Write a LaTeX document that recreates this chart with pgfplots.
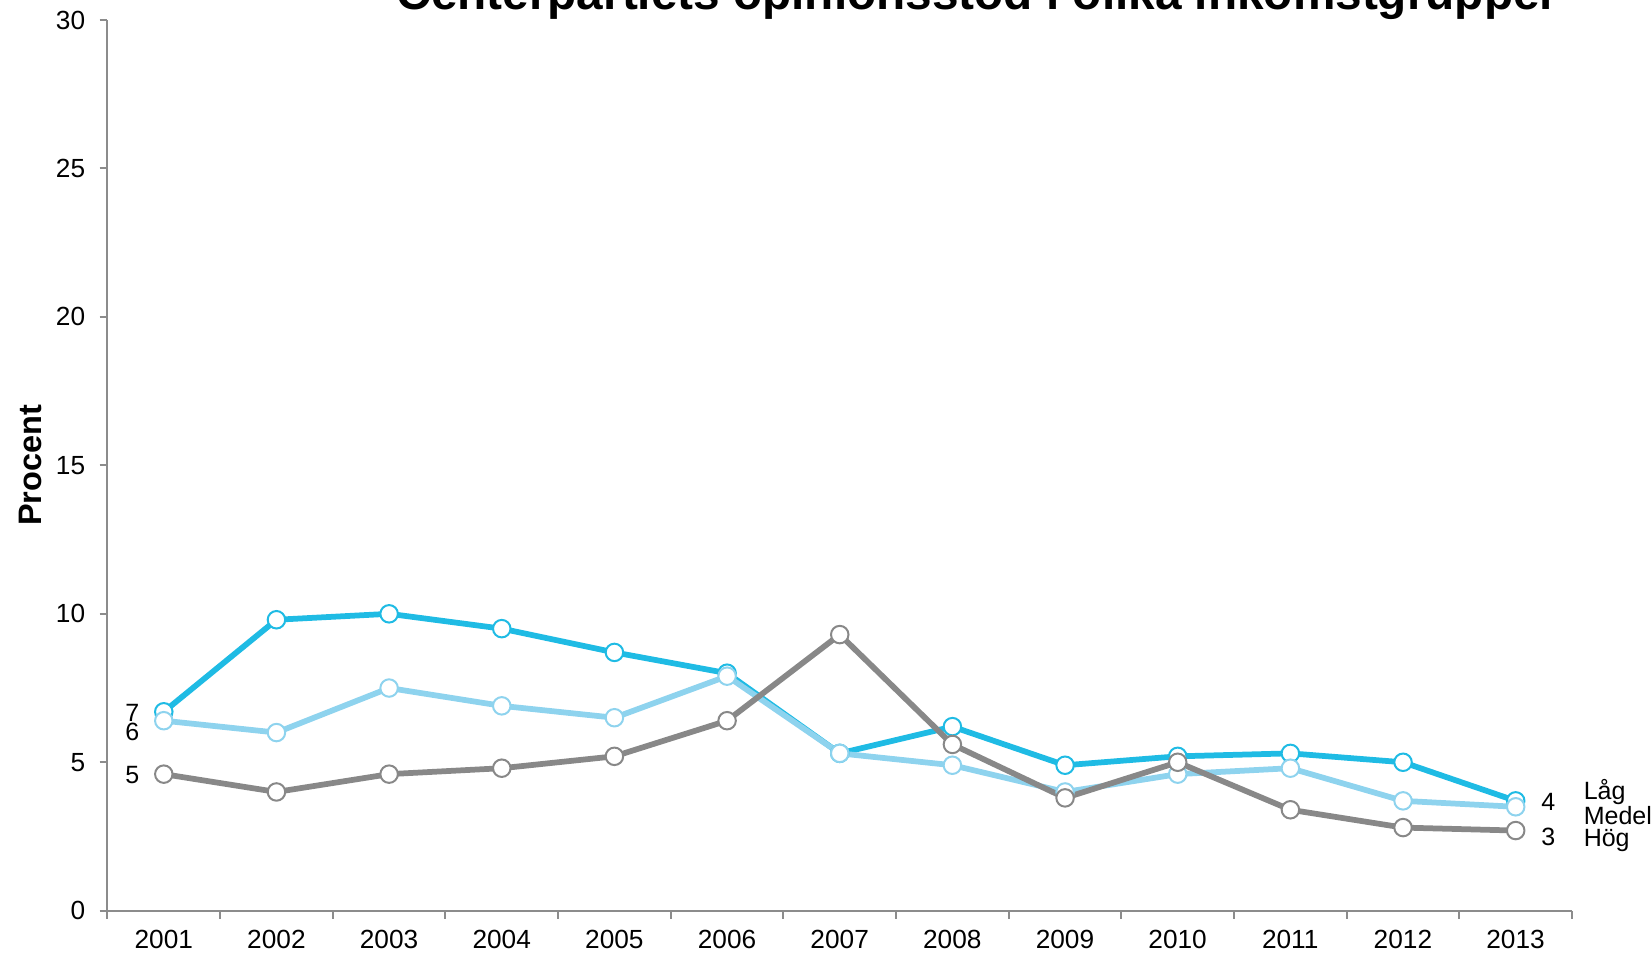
\documentclass[border=0pt]{standalone}
\usepackage{pgfplots}
\pgfplotsset{compat=1.18}
\usepackage{fontspec}
\setmainfont{Liberation Sans}

\definecolor{laag}{HTML}{1FBBE4}
\definecolor{medel}{HTML}{8ED3EE}
\definecolor{hoeg}{HTML}{888888}
\definecolor{axisgray}{HTML}{8C8C8C}

\pgfplotstableread{
year laag medel hoeg
2001 6.7 6.4 4.6
2002 9.8 6.0 4.0
2003 10.0 7.5 4.6
2004 9.5 6.9 4.8
2005 8.7 6.5 5.2
2006 8.0 7.9 6.4
2007 5.3 5.3 9.3
2008 6.2 4.9 5.6
2009 4.9 4.0 3.8
2010 5.2 4.6 5.0
2011 5.3 4.8 3.4
2012 5.0 3.7 2.8
2013 3.7 3.5 2.7
}\data

\begin{document}
\begin{tikzpicture}
\begin{axis}[
    scale only axis,
    width=586pt, height=356.4pt,
    xmin=2000.5, xmax=2013.5,
    ymin=0, ymax=30,
    axis lines*=left,
    axis line style={draw=axisgray, line width=0.8pt},
    xtick={2001,...,2013},
    minor xtick={2000.5,2001.5,...,2013.5},
    major x tick style={draw=none},
    minor x tick style={draw=axisgray, line width=0.8pt},
    minor tick length=3.2pt,
    ytick={0,5,...,30},
    y tick style={draw=axisgray, line width=0.8pt},
    major tick length=3.2pt,
    tick align=outside,
    x tick label style={/pgf/number format/1000 sep={}, font=\fontsize{10.5}{12}\selectfont, yshift=-1pt},
    y tick label style={font=\fontsize{10.5}{12}\selectfont, xshift=-2.2pt},
    /pgf/number format/assume math mode=true,
    ylabel={Procent},
    every axis y label/.style={at={(rel axis cs:0,0.5)}, anchor=center, rotate=90, yshift=31pt, font=\fontsize{13}{13}\selectfont\bfseries},
    clip=false,
    every axis plot/.append style={line width=2.3pt, mark=*, mark size=3.5pt, mark options={fill=white, line width=0.8pt}},
]
\addplot[color=laag] table[x=year, y=laag] {\data};
\addplot[color=medel] table[x=year, y=medel] {\data};
\addplot[color=hoeg] table[x=year, y=hoeg] {\data};

\coordinate (sw) at (rel axis cs:0,0);
\coordinate (ne) at (rel axis cs:1,1);

\node[font=\fontsize{19.1}{19}\selectfont\bfseries, anchor=base] at ([yshift=4pt]rel axis cs:0.594,1) {Centerpartiets opinionsstöd i olika inkomstgrupper};

\begin{scope}[every node/.style={font=\fontsize{10}{10}\selectfont, inner sep=0pt}]
\node at (axis cs:2000.72,6.67) {7};
\node at (axis cs:2000.72,6.03) {6};
\node at (axis cs:2000.72,4.57) {5};
\node at (axis cs:2013.29,3.65) {4};
\node at (axis cs:2013.29,2.48) {3};
\node[anchor=west] at (axis cs:2013.6,4.0) {Låg};
\node[anchor=west] at (axis cs:2013.6,3.2) {Medel};
\node[anchor=west] at (axis cs:2013.6,2.38) {Hög};
\end{scope}
\end{axis}
\pgfresetboundingbox
\path[use as bounding box] ([shift={(-43pt,-17.6pt)}]sw) rectangle ([shift={(31.6pt,8pt)}]ne);
\end{tikzpicture}
\end{document}
